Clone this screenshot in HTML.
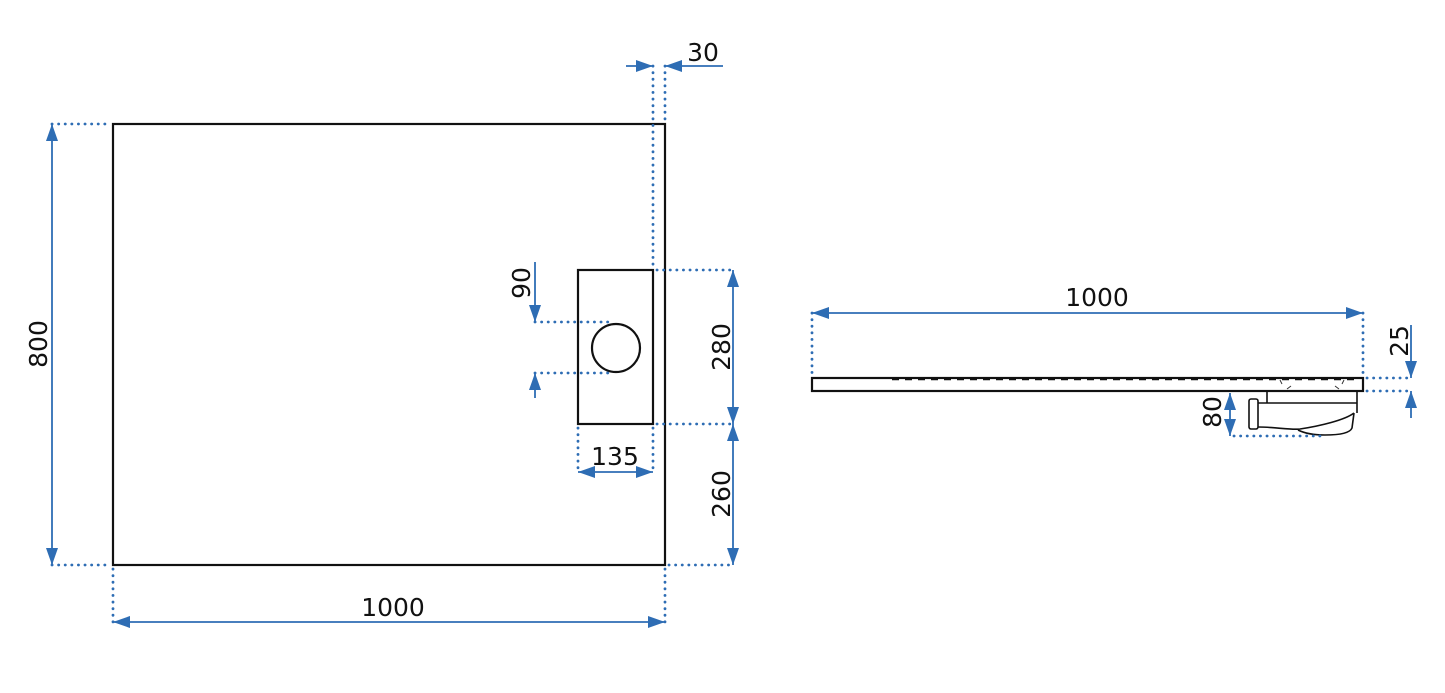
<!DOCTYPE html>
<html><head><meta charset="utf-8"><style>
html,body{margin:0;padding:0;background:#fff;}
svg{display:block;}
text{font-family:"DejaVu Sans","Liberation Sans",sans-serif;font-size:25px;fill:#111;}
.d{stroke:#2e6db4;stroke-width:2.8;stroke-dasharray:0.1 6.5;stroke-linecap:round;fill:none;}
.l{stroke:#2e6db4;stroke-width:1.8;fill:none;}
.k{stroke:#111;stroke-width:2.2;fill:none;}
</style></head><body>
<svg width="1445" height="693" viewBox="0 0 1445 693" xmlns="http://www.w3.org/2000/svg">
<defs>
<marker id="ar" viewBox="0 0 17 12" refX="17" refY="6" markerWidth="17" markerHeight="12" markerUnits="userSpaceOnUse" orient="auto-start-reverse"><path d="M0,0 L17,6 L0,12 Z" fill="#2e6db4"/></marker>
</defs>
<rect x="113" y="124" width="552" height="441" class="k"/>
<rect x="578" y="270" width="75" height="154" class="k"/>
<circle cx="616" cy="348" r="24" class="k"/>
<path class="d" d="M52,124 H110 M52,565 H110"/>
<line x1="52" y1="124" x2="52" y2="565" class="l" marker-start="url(#ar)" marker-end="url(#ar)"/>
<text transform="translate(47,344) rotate(-90)" text-anchor="middle">800</text>
<path class="d" d="M113,569 V622 M665,569 V622"/>
<line x1="113" y1="622" x2="665" y2="622" class="l" marker-start="url(#ar)" marker-end="url(#ar)"/>
<text x="393" y="616" text-anchor="middle">1000</text>
<path class="d" d="M653,66 V268 M665,66 V122"/>
<line x1="626" y1="66" x2="653" y2="66" class="l" marker-end="url(#ar)"/>
<line x1="723" y1="66" x2="665" y2="66" class="l" marker-end="url(#ar)"/>
<text x="703" y="61" text-anchor="middle">30</text>
<path class="d" d="M657,270 H733 M657,424 H733 M669,565 H733"/>
<line x1="733" y1="270" x2="733" y2="424" class="l" marker-start="url(#ar)" marker-end="url(#ar)"/>
<line x1="733" y1="424" x2="733" y2="565" class="l" marker-start="url(#ar)" marker-end="url(#ar)"/>
<text transform="translate(730,347) rotate(-90)" text-anchor="middle">280</text>
<text transform="translate(730,494) rotate(-90)" text-anchor="middle">260</text>
<path class="d" d="M578,428 V472 M653,428 V472"/>
<line x1="578" y1="472" x2="653" y2="472" class="l" marker-start="url(#ar)" marker-end="url(#ar)"/>
<text x="615" y="465" text-anchor="middle">135</text>
<path class="d" d="M535,322 H612 M535,373 H612"/>
<line x1="535" y1="262" x2="535" y2="322" class="l" marker-end="url(#ar)"/>
<line x1="535" y1="398" x2="535" y2="373" class="l" marker-end="url(#ar)"/>
<text transform="translate(530,283) rotate(-90)" text-anchor="middle">90</text>
<rect x="812" y="378" width="551" height="13" class="k"/>
<line x1="892" y1="379.5" x2="1355" y2="379.5" stroke="#111" stroke-width="1.6" stroke-dasharray="7 6"/>
<path d="M1280,380 l2,4 M1344,380 l-2,4 M1287,389 l4,-3 M1339,389 l-4,-3" stroke="#333" stroke-width="1" fill="none"/>
<path class="d" d="M812,313 V376 M1363,313 V376"/>
<line x1="812" y1="313" x2="1363" y2="313" class="l" marker-start="url(#ar)" marker-end="url(#ar)"/>
<text x="1097" y="306" text-anchor="middle">1000</text>
<path class="d" d="M1367,378 H1410 M1367,391 H1410"/>
<line x1="1411" y1="325" x2="1411" y2="378" class="l" marker-end="url(#ar)"/>
<line x1="1411" y1="418" x2="1411" y2="391" class="l" marker-end="url(#ar)"/>
<text transform="translate(1408,341) rotate(-90)" text-anchor="middle">25</text>
<path d="M1267,391 V403 M1357,391 V413" stroke="#111" stroke-width="1.6" fill="none"/>
<path d="M1258,403 H1357 M1258,427 C1275,427 1290,430 1300,429 C1320,426 1345,420 1354,413 M1354,413 L1352,428 C1350,433 1340,435 1325,435 C1310,435 1302,432 1298,430" stroke="#111" stroke-width="1.6" fill="none"/>
<rect x="1249" y="399" width="9" height="30" rx="2" stroke="#111" stroke-width="1.6" fill="none"/>
<path class="d" d="M1234,436 H1320"/>
<line x1="1230" y1="393" x2="1230" y2="436" class="l" marker-start="url(#ar)" marker-end="url(#ar)"/>
<text transform="translate(1221,412) rotate(-90)" text-anchor="middle">80</text>
</svg>
</body></html>
